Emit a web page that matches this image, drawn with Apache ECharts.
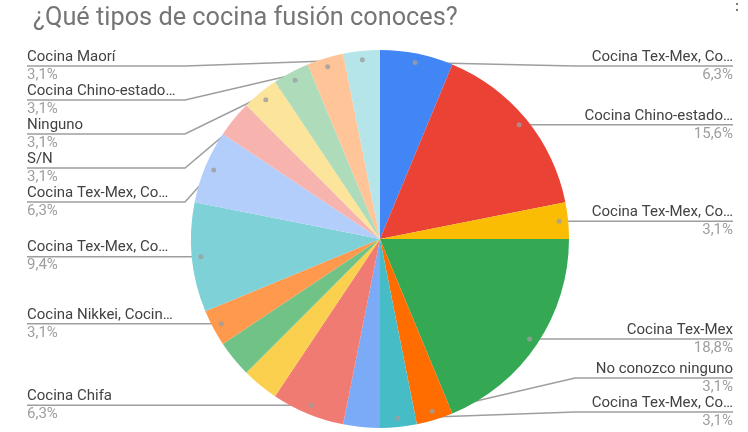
<!DOCTYPE html>
<html>
<head>
<meta charset="utf-8">
<script src="https://cdn.jsdelivr.net/npm/echarts@6/dist/echarts.min.js"></script>
<style>
  html, body { margin: 0; padding: 0; background: #fff; }
  #chart { width: 748px; height: 432px; }
</style>
</head>
<body>
<div id="chart"></div>
<script>
// respuestas (32 en total), en orden horario desde arriba
const categories = [
  'Cocina Tex-Mex, Co…', 'Cocina Chino-estado…', 'Cocina Tex-Mex, Co…', 'Cocina Tex-Mex',
  'No conozco ninguno', 'Cocina Tex-Mex, Co…', 'Otra', 'Cocina Chifa', 'Otra', 'Otra',
  'Cocina Nikkei, Cocin…', 'Cocina Tex-Mex, Co…', 'Cocina Tex-Mex, Co…', 'Otra',
  'S/N', 'Ninguno', 'Cocina Chino-estado…', 'Cocina Maorí'
]
const counts = [2, 5, 1, 6, 1, 1, 1, 2, 1, 1, 1, 3, 2, 1, 1, 1, 1, 1]
// google hides a few labels for lack of room
const labelled = [1, 1, 1, 1, 1, 1, 0, 1, 0, 0, 1, 1, 1, 0, 1, 1, 1, 1]

const colors = [
  '#4285f4', '#ea4335', '#fbbc04', '#34a853', '#ff6d01', '#46bdc6', '#7baaf7', '#f07b72', '#fcd04f',
  '#71c287', '#ff994d', '#7ed1d7', '#b3cefb', '#f7b4ae', '#fde49b', '#aedcba', '#ffc599', '#b5e5e8'
]

const CX = 380, CY = 239, R = 189, DOT_R = 180
const LEFT_X = 27, RIGHT_X = 733, ELBOW_L = 185, ELBOW_R = 575
const LABEL_TOP = 66, LABEL_BOTTOM = 412, LABEL_GAP = 34
const FONT = 'Roboto, Arial, sans-serif'

const total = counts.reduce((a, b) => a + b, 0)
const pct = v => (v / total * 100).toFixed(1).replace('.', ',') + '%'

// mid angle of each slice, in the same units as the counts
const mids = []
let acc = 0
counts.forEach(v => { mids.push(acc + v / 2); acc += v })

const dotPos = m => {
  const a = m / total * Math.PI * 2
  return [CX + DOT_R * Math.sin(a), CY - DOT_R * Math.cos(a)]
}

// spread labels vertically on each side, like the sheets chart does
const labelY = {}
function spread(idx) {
  idx.sort((a, b) => dotPos(mids[a])[1] - dotPos(mids[b])[1])
  const ys = idx.map(i => dotPos(mids[i])[1])
  for (let k = 0; k < ys.length; k++) {
    ys[k] = Math.max(ys[k], k ? ys[k - 1] + LABEL_GAP : LABEL_TOP)
  }
  for (let k = ys.length - 1; k >= 0; k--) {
    ys[k] = Math.min(ys[k], k < ys.length - 1 ? ys[k + 1] - LABEL_GAP : LABEL_BOTTOM)
  }
  idx.forEach((i, k) => { labelY[i] = ys[k] })
}
const shown = counts.map((v, i) => i).filter(i => labelled[i])
spread(shown.filter(i => mids[i] < total / 2))
spread(shown.filter(i => mids[i] >= total / 2))

const pieData = categories.map((name, i) => {
  const item = { name: name, value: counts[i], itemStyle: { color: colors[i] } }
  if (!labelled[i]) {
    item.label = { show: false }
    item.labelLine = { show: false }
  }
  return item
})

const dotData = mids.filter((m, i) => labelled[i]).map(m => [DOT_R, m])

const chart = echarts.init(document.getElementById('chart'))

chart.setOption({
  animation: false,
  title: {
    text: '¿Qué tipos de cocina fusión conoces?',
    left: 33,
    top: 6,
    padding: 0,
    textStyle: { fontFamily: FONT, fontSize: 25.3, fontWeight: 'normal', color: '#757575' }
  },
  graphic: [{
    type: 'text',
    right: 2,
    top: -5,
    style: { text: '⋮', fontSize: 18, fill: '#757575', fontFamily: FONT }
  }],
  polar: { center: [CX, CY], radius: R },
  angleAxis: { type: 'value', min: 0, max: total, startAngle: 90, clockwise: true, show: false },
  radiusAxis: { type: 'value', min: 0, max: R, show: false },
  series: [
    {
      type: 'pie',
      center: [CX, CY],
      radius: R,
      startAngle: 90,
      clockwise: true,
      avoidLabelOverlap: false,
      silent: true,
      itemStyle: { borderWidth: 0 },
      label: {
        position: 'outside',
        fontFamily: FONT,
        formatter: p => '{n|' + p.name + '}\n{p|' + pct(p.value) + '}',
        rich: {
          n: { fontFamily: FONT, fontSize: 15, color: '#424242', lineHeight: 18 },
          p: { fontFamily: FONT, fontSize: 15, color: '#9e9e9e', lineHeight: 18 }
        }
      },
      labelLine: {
        show: true,
        length: 10,
        length2: 0,
        lineStyle: { color: '#9e9e9e', width: 1.5 }
      },
      labelLayout: function (params) {
        const i = params.dataIndex
        if (labelY[i] == null) return {}
        const isLeft = mids[i] >= total / 2
        const y = labelY[i]
        const dot = dotPos(mids[i])
        return {
          x: isLeft ? LEFT_X : RIGHT_X,
          y: y,
          align: isLeft ? 'left' : 'right',
          verticalAlign: 'middle',
          labelLinePoints: [dot, [isLeft ? ELBOW_L : ELBOW_R, y], [isLeft ? LEFT_X : RIGHT_X, y]]
        }
      },
      data: pieData
    },
    {
      type: 'scatter',
      coordinateSystem: 'polar',
      silent: true,
      symbolSize: 5,
      z: 5,
      itemStyle: { color: '#9e9e9e' },
      data: dotData
    }
  ]
})
</script>
</body>
</html>
